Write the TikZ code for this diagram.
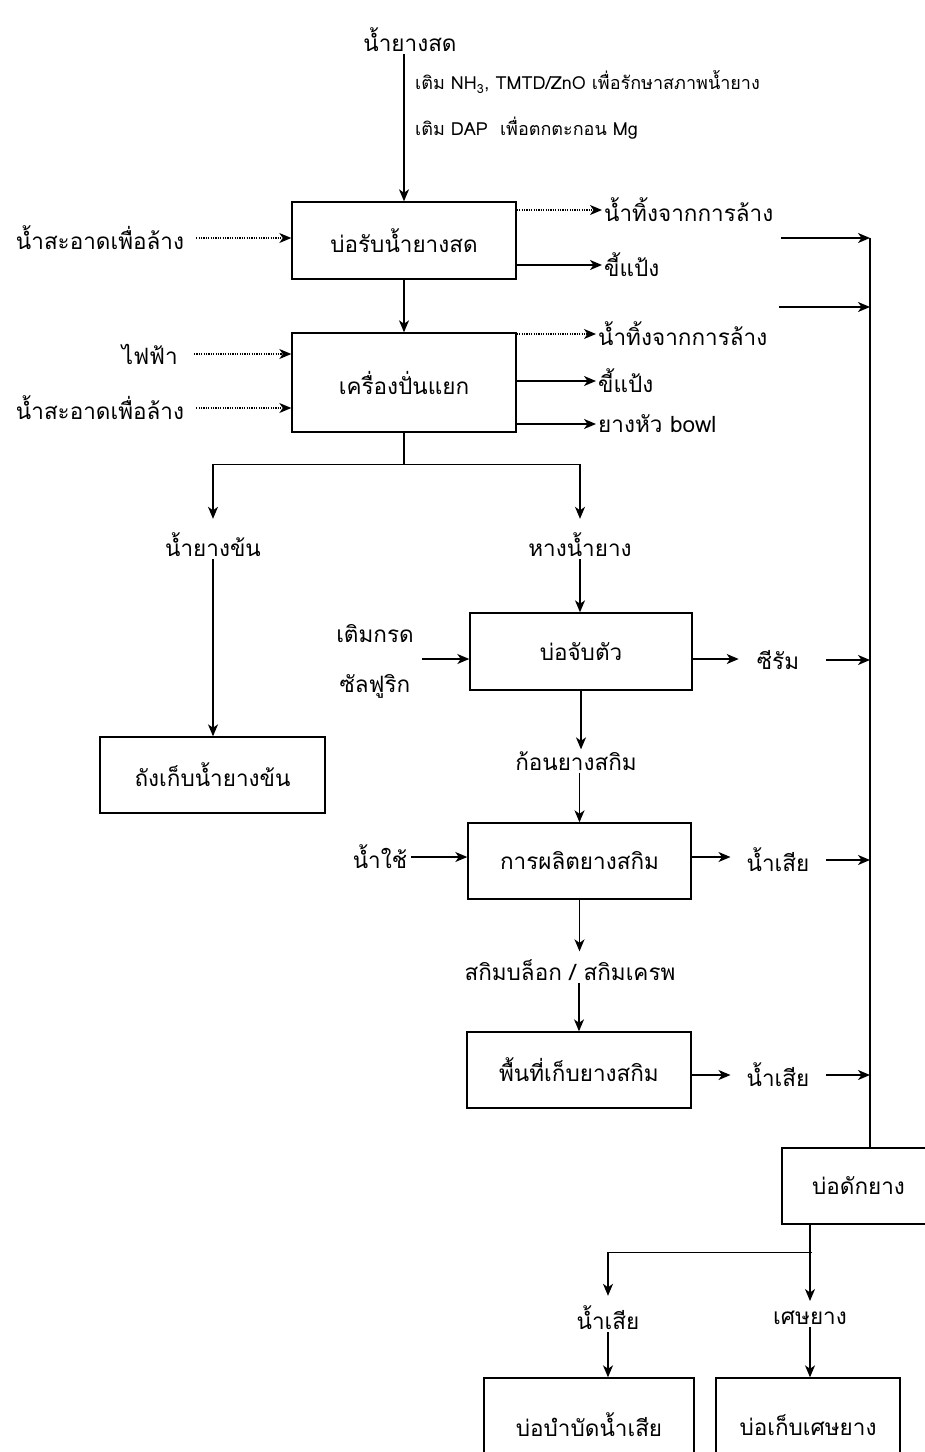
\documentclass[tikz,border=0pt]{standalone}
\usepackage{fontspec}
\newfontfamily\thai[Script=Thai]{Loma}
\usetikzlibrary{arrows.meta}
\begin{document}
\begin{tikzpicture}[x=1pt,y=-1pt,
  every node/.style={font=\thai\fontsize{22.5}{26}\selectfont, inner sep=2pt},
  note/.style={font=\thai\fontsize{18}{21}\selectfont},
  box/.style 2 args={draw, line width=1.4pt, minimum width=#1, minimum height=#2, inner sep=0pt},
  line/.style={line width=1.4pt},
  arr/.style={line width=1.4pt, -{Stealth[length=12pt,width=10pt,inset=3.5pt]}},
  darr/.style={line width=1.1pt, dash pattern=on 1.2pt off 1.2pt, -{Stealth[length=12pt,width=10pt,inset=3.5pt]}}]
\path[use as bounding box] (0,0) rectangle (925,1452);
\clip (0,0) rectangle (925,1452);

% boxes
\node[box={224}{77}] (b1) at (404,240.5) {บ่อรับน้ำยางสด};
\node[box={224}{99}] (b2) at (404,382.5) {เครื่องปั่นแยก};
\node[box={225}{76}] (tank) at (212.5,775) {ถังเก็บน้ำยางข้น};
\node[box={222}{77}] (b3) at (581,651.5) {บ่อจับตัว};
\node[box={223}{76}] (b4) at (579.5,861) {การผลิตยางสกิม};
\node[box={224}{76}] (b5) at (579,1070) {พื้นที่เก็บยางสกิม};
\node[box={153}{76}] (b6) at (858.5,1186) {บ่อดักยาง};
\node[box={210}{94}] (b7) at (589,1425) {บ่อบำบัดน้ำเสีย};
\node[box={184}{94}] (b8) at (808,1425) {บ่อเก็บเศษยาง};

% labels
\node (top) at (410,40) {น้ำยางสด};
\node[note, anchor=west] (n1) at (413,82) {เติม NH\textsubscript{3}, TMTD/ZnO เพื่อรักษาสภาพน้ำยาง};
\node[note, anchor=west] (n2) at (413,128) {เติม DAP\ \ เพื่อตกตะกอน Mg};
\node (in1) at (100,238) {น้ำสะอาดเพื่อล้าง};
\node[anchor=east] (in2) at (180,354) {ไฟฟ้า};
\node (in3) at (100,408) {น้ำสะอาดเพื่อล้าง};
\node[anchor=west] (o1) at (602,210) {น้ำทิ้งจากการล้าง};
\node[anchor=west] (o2) at (602,265) {ขี้แป้ง};
\node[anchor=west] (o3) at (596,334) {น้ำทิ้งจากการล้าง};
\node[anchor=west] (o4) at (596,381) {ขี้แป้ง};
\node[anchor=west] (o5) at (596,424) {ยางหัว bowl};
\node (conc) at (213,545) {น้ำยางข้น};
\node (skim) at (580,545) {หางน้ำยาง};
\node (acid1) at (375,634) {เติมกรด};
\node (acid2) at (375,686) {ซัลฟูริก};
\node (serum) at (778,660) {ซีรัม};
\node (lump) at (576,761) {ก้อนยางสกิม};
\node (water) at (380,857) {น้ำใช้};
\node (w1) at (778,860) {น้ำเสีย};
\node (prod) at (570,970) {สกิมบล็อก / สกิมเครพ};
\node (w2) at (778,1075) {น้ำเสีย};
\node (w3) at (608,1318) {น้ำเสีย};
\node (scrap) at (810,1318) {เศษยาง};

% main flow
\draw[arr] (b1.north |- top.south) -- (b1.north);
\draw[arr] (b1) -- (b2);
\draw[darr] ([xshift=10pt]in1.east) -- (in1.east -| b1.west);
\draw[darr] ([xshift=14pt]in2.east) -- (in2.east -| b2.west);
\draw[darr] ([xshift=10pt]in3.east) -- (in3.east -| b2.west);
\draw[darr] (o1.west -| b1.east) -- (o1.west);
\draw[arr] (o2.west -| b1.east) -- (o2.west);
\draw[darr] (o3.west -| b2.east) -- (o3.west);
\draw[arr] (o4.west -| b2.east) -- (o4.west);
\draw[arr] (o5.west -| b2.east) -- (o5.west);

% collector
\coordinate (c1) at (870,238);
\coordinate (s1) at (781,238);
\coordinate (c2) at (870,307);
\coordinate (s2) at (779,307);
\draw[line] (c1) -- (c1 |- b6.north);
\draw[arr] (s1) -- (c1);
\draw[arr] (s2) -- (c2);
\draw[arr] ([xshift=48pt]serum.center) -- (serum.center -| c1);
\draw[arr] ([xshift=48pt]w1.center) -- (w1.center -| c1);
\draw[arr] ([xshift=48pt]w2.center) -- (w2.center -| c1);

% branch after separator
\draw[line] (b2.south) -- ++(0,32) coordinate (j1);
\draw[arr] ([xshift=-0.7pt]j1) -| ([yshift=12pt]conc.north);
\draw[arr] ([xshift=0.7pt]j1) -| ([yshift=12pt]skim.north);
\draw[arr] (conc.south) -- (conc.south |- tank.north);
\draw[arr] (skim.south) -- (skim.south |- b3.north);

% coagulation
\coordinate (acidin) at (422,659);
\draw[arr] (acidin) -- (acidin -| b3.west);
\draw[arr] (b3.east |- acidin) -- ([xshift=-16pt]serum.west |- acidin);
\draw[arr] (b3.south) -- (b3.south |- lump.north);
\draw[arr] (lump.south -| b4.north) -- (b4.north);
\draw[arr] ([xshift=2pt]water.east) -- (water.east -| b4.west);
\draw[arr] (b4.east |- water.east) -- ([xshift=-14pt]w1.west |- water.east);
\draw[arr] (b4.south) -- ([yshift=6pt]prod.north -| b4.south);
\draw[arr] (prod.south -| b5.north) -- (b5.north);
\draw[arr] (b5.east |- w2) -- ([xshift=-14pt]w2.west);

% rubber trap outputs
\draw[line] (b6.south -| scrap) -- ++(0,28) coordinate (j2);
\draw[arr] ([xshift=2pt]j2) -| ([yshift=8pt]w3.north);
\draw[arr] (j2) -- ([yshift=8pt]scrap.north);
\draw[arr] (w3.south) -- (w3.south |- b7.north);
\draw[arr] (scrap.south) -- (scrap.south |- b8.north);
\end{tikzpicture}
\end{document}
